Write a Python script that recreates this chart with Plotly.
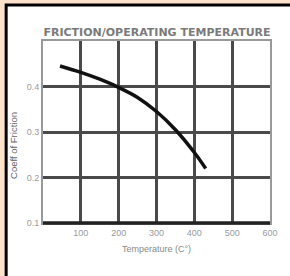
import plotly.graph_objects as go

temperature = [45, 100, 150, 200, 250, 300, 350, 400, 430]
coeff_friction = [0.445, 0.431, 0.416, 0.398, 0.376, 0.345, 0.305, 0.255, 0.22]
x_ticks = [100, 200, 300, 400, 500, 600]
y_ticks = [0.1, 0.2, 0.3, 0.4]

W, H = 290, 276
L, R, T, B = 43, 13, 41, 53
pw, ph = W - L - R, H - T - B

def px(x):
    return (x - L) / pw

def py(y):
    return (H - B - y) / ph

fig = go.Figure()
fig.add_trace(go.Scatter(
    x=temperature, y=coeff_friction, mode="lines",
    line=dict(color="#111111", width=3.5, shape="spline", smoothing=1.0),
    showlegend=False, hoverinfo="skip"))

fig.update_layout(
    width=W, height=H,
    margin=dict(l=L, r=R, t=T, b=B),
    paper_bgcolor="#FDE3CC",
    plot_bgcolor="white",
    title=dict(text="<b>FRICTION/OPERATING TEMPERATURE</b>",
               font=dict(family="DejaVu Sans", size=11, color="#7a7a7a"),
               x=157 / W, xanchor="center", y=1 - 32 / H, yanchor="middle"),
    xaxis=dict(range=[0, 600], tickvals=x_ticks, ticktext=[str(v) for v in x_ticks],
               showgrid=True, gridcolor="#4a4a4a", gridwidth=2.5,
               showline=True, linecolor="#999999", linewidth=2, mirror=True,
               zeroline=False, ticks="",
               tickfont=dict(family="Liberation Sans Narrow, Liberation Sans", size=9, color="#9a9a9a"),
               title=dict(text="Temperature (C°)", standoff=9,
                          font=dict(family="Liberation Sans Narrow, Liberation Sans", size=9, color="#8a8a8a"))),
    yaxis=dict(range=[0.1, 0.5], tickvals=y_ticks, ticktext=[str(v) for v in y_ticks],
               showgrid=True, gridcolor="#4a4a4a", gridwidth=2.5,
               showline=True, linecolor="#999999", linewidth=2, mirror=True,
               zeroline=False, ticks="",
               tickfont=dict(family="Liberation Sans Narrow, Liberation Sans", size=9, color="#9a9a9a")),
    annotations=[
        dict(text="Coeff of Friction", xref="paper", yref="paper",
             x=px(12), y=py(145), xanchor="center", yanchor="middle",
             textangle=-90, showarrow=False,
             font=dict(family="Liberation Sans Narrow, Liberation Sans", size=9.5, color="#666666")),
    ],
    shapes=[
        dict(type="rect", xref="paper", yref="paper", layer="below",
             x0=px(5), x1=px(320), y0=py(320), y1=py(5),
             line=dict(color="black", width=3), fillcolor="white"),
        dict(type="line", xref="paper", yref="paper", layer="above",
             x0=0, x1=1, y0=0, y1=0, line=dict(color="#222222", width=3.5)),
    ],
)

fig.write_html("out.html", config={"displayModeBar": False},
               post_script="document.body.style.margin='0';document.body.style.overflow='hidden';")
